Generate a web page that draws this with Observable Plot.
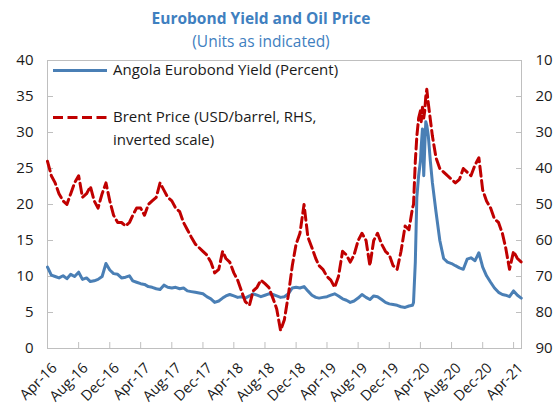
<!DOCTYPE html>
<html><head><meta charset="utf-8">
<script src="https://cdn.jsdelivr.net/npm/d3@7"></script>
<script src="https://cdn.jsdelivr.net/npm/@observablehq/plot@0.6"></script>
<style>
body{margin:0;background:#fff;font-family:"Open Sans",sans-serif;}
#wrap{position:relative;width:556px;height:408px;overflow:hidden;}
#title{position:absolute;left:0;width:522px;top:8px;text-align:center;font-weight:bold;font-size:15.5px;color:#3f80c0;line-height:20px;}
#subtitle{position:absolute;left:0;width:522px;top:31px;text-align:center;font-size:15.5px;color:#3f80c0;line-height:20px;}
#chart{position:absolute;left:0;top:50px;}
#legend{position:absolute;left:53px;top:58px;font-size:15px;color:#1a1a1a;line-height:23px;}
.row{position:relative;height:23px;white-space:nowrap;}
.row svg{position:absolute;left:0;top:0;}
.row span{position:absolute;left:60px;top:0;}
</style>
</head><body>
<div id="wrap">
<div id="title">Eurobond Yield and Oil Price</div>
<div id="subtitle">(Units as indicated)</div>
<div id="chart"></div>
<div id="legend"></div>
</div>
<script>
// Semi-monthly observations (1st and 16th), plus finer points around the March-May 2020 spike
const monthsA = ["2016-04","2016-05","2016-06","2016-07","2016-08","2016-09","2016-10","2016-11","2016-12",
 "2017-01","2017-02","2017-03","2017-04","2017-05","2017-06","2017-07","2017-08","2017-09","2017-10","2017-11","2017-12",
 "2018-01","2018-02","2018-03","2018-04","2018-05","2018-06","2018-07","2018-08","2018-09","2018-10","2018-11","2018-12",
 "2019-01","2019-02","2019-03","2019-04","2019-05","2019-06","2019-07","2019-08","2019-09","2019-10","2019-11","2019-12",
 "2020-01","2020-02"];
const spikeDates = ["2020-03-01","2020-03-05","2020-03-12","2020-03-18","2020-03-25","2020-04-01","2020-04-04","2020-04-09",
 "2020-04-14","2020-04-18","2020-04-22","2020-04-26","2020-05-02","2020-05-10","2020-05-18"];
const monthsB = ["2020-06","2020-07","2020-08","2020-09","2020-10","2020-11","2020-12","2021-01","2021-02","2021-03","2021-04"];
const lastDate = ["2021-05-01"];

// Angola Eurobond yield (percent, left axis)
const yieldValues = [
 11.3,10.2,10.0,9.8,10.1,9.7,10.3,10.0,10.6,9.6,9.8,9.3,9.4,9.6,10.0,11.8,10.9,10.4,10.3,9.8,9.9,10.1,9.4,9.2,
 9.0,8.9,8.6,8.5,8.3,8.2,8.8,8.5,8.4,8.5,8.3,8.4,8.0,7.9,7.8,7.7,7.6,7.2,6.9,6.4,6.6,7.0,7.3,7.5,
 7.3,7.1,7.2,7.0,7.3,7.6,7.4,7.2,7.4,7.6,7.5,7.3,7.1,7.2,7.6,8.4,8.5,8.4,8.6,8.0,7.4,7.1,7.0,7.1,
 7.2,7.4,7.6,7.3,6.9,6.7,6.4,6.6,7.0,7.5,7.1,6.8,7.3,7.2,6.8,6.4,6.2,6.1,6.0,5.8,5.7,5.9,
 6.0,6.4,12,21,24,26,28,30.5,24,28,31.5,31,29.5,26,23,
 19,15,12.5,12,11.8,11.5,11.2,11.0,12.4,12.6,12.2,13.3,11.3,10.1,9.2,8.4,7.8,7.5,7.4,7.2,8.0,7.4,
 7.0];

// Brent price (USD/barrel, right axis, inverted)
const brentValues = [
 38,42,44,47,49,50,47,44,42,48,47,45,49,51,47,44,49,53,55,55,56,55,53,51,
 51,53,50,49,48,44,46,48,49,51,52,55,57,59,61,62,63,64,66,69,68,63,65,66,
 69,71,74,77,78,74,73,71,72,73,76,79,85,82,75,67,61,58,50,59,62,65,67,68,
 70,71,73,70,63,64,66,64,60,58,60,67,60,58,61,63,64,67,68,63,56,57,
 51,50,38,31,26,24,27,23,26,24,20,18,22,26.5,31,
 37,40,41,42,43,44,43,40,41,42,39,37,46,49,51,54,55,58,62,68,63,65,
 66];

const leftTicks = [0,5,10,15,20,25,30,35,40];
const rightTickLabels = [90,80,70,60,50,40,30,20,10];
const xTickLabels = ["Apr-16","Aug-16","Dec-16","Apr-17","Aug-17","Dec-17","Apr-18","Aug-18","Dec-18",
 "Apr-19","Aug-19","Dec-19","Apr-20","Aug-20","Dec-20","Apr-21"];

const dates = [
 ...monthsA.flatMap(m => [m + "-01", m + "-16"]),
 ...spikeDates,
 ...monthsB.flatMap(m => [m + "-01", m + "-16"]),
 ...lastDate
];
const data = dates.map((d, i) => ({date: new Date(d + "T00:00:00Z"), yld: yieldValues[i], brent: brentValues[i]}));
const parseTick = d3.utcParse("%b-%y");
const xTicks = xTickLabels.map(parseTick);
const fmtTick = d3.utcFormat("%b-%y");
const brentToY = p => (90 - p) / 2;
const blank = () => "";

const chart = Plot.plot({
  width: 556, height: 358,
  marginLeft: 47, marginRight: 35, marginTop: 10, marginBottom: 60,
  x: {type: "utc", domain: [new Date("2016-04-01T00:00:00Z"), new Date("2021-05-02T00:00:00Z")]},
  y: {domain: [0, 40]},
  style: {fontFamily: "'Open Sans', sans-serif", fontSize: "15px", color: "#1a1a1a", background: "transparent"},
  marks: [
    Plot.frame({stroke: "#bfbfbf"}),
    Plot.axisY({anchor: "left", ticks: leftTicks, tickSize: 6, dx: 6, stroke: "#bfbfbf", tickFormat: blank, label: null}),
    Plot.axisY({anchor: "left", ticks: leftTicks, tickSize: 0, tickPadding: 14, label: null}),
    Plot.axisY({anchor: "right", ticks: leftTicks, tickSize: 6, dx: -6, stroke: "#bfbfbf", tickFormat: blank, label: null}),
    Plot.axisY({anchor: "right", ticks: leftTicks, tickSize: 0, tickPadding: 14, label: null,
      tickFormat: d => rightTickLabels[leftTicks.indexOf(d)]}),
    Plot.axisX({anchor: "bottom", ticks: xTicks, tickSize: 6, dy: -6, stroke: "#bfbfbf", tickFormat: blank, label: null}),
    Plot.text(xTicks, {x: d => d, text: d => fmtTick(d), frameAnchor: "bottom", dx: 7, dy: 17, rotate: -45,
      textAnchor: "end", lineAnchor: "middle", fontSize: 14.5, fill: "#1a1a1a"}),
    Plot.lineY(data, {x: "date", y: "yld", stroke: "#4a7fb5", strokeWidth: 3}),
    Plot.lineY(data, {x: "date", y: d => brentToY(d.brent), stroke: "#c00000", strokeWidth: 3, strokeDasharray: "10,4.5"})
  ]
});
document.getElementById("chart").appendChild(chart);

const legendItems = [
  {label: "Angola Eurobond Yield (Percent)", color: "#4a7fb5", dash: null},
  {label: "Brent Price (USD/barrel, RHS,", color: "#c00000", dash: "10,4.5"},
  {label: "inverted scale)", color: null, dash: null}
];
const lg = document.getElementById("legend");
legendItems.forEach((it, i) => {
  const row = document.createElement("div");
  row.className = "row";
  if (i === 1) row.style.marginTop = "24px";
  let html = "";
  if (it.color) html += `<svg width="56" height="23"><line x1="0" x2="54" y1="12.5" y2="12.5" stroke="${it.color}" stroke-width="3" ${it.dash ? `stroke-dasharray="${it.dash}"` : ""}/></svg>`;
  html += `<span>${it.label}</span>`;
  row.innerHTML = html;
  lg.appendChild(row);
});
</script>
</body></html>
